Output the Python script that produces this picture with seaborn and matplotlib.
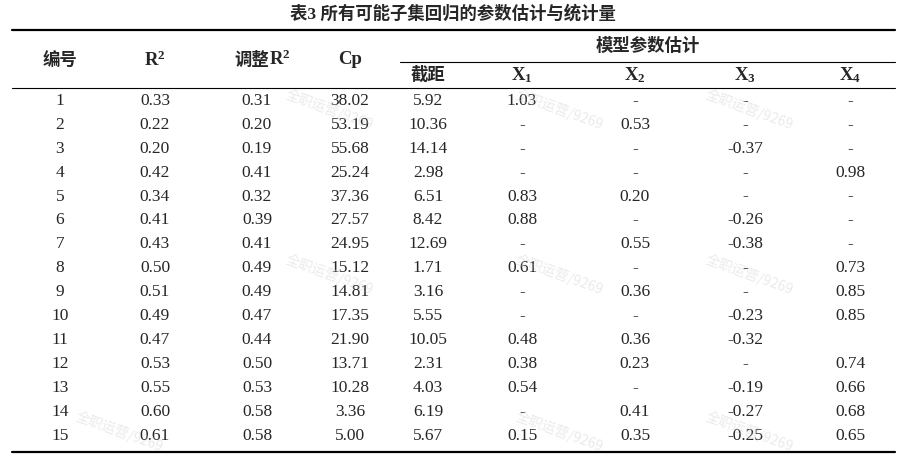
import matplotlib
matplotlib.use("Agg")
import matplotlib.pyplot as plt
import seaborn as sns

sns.set_theme(style="white")
plt.rcParams['font.family'] = ['Liberation Serif', 'Noto Sans CJK SC']
plt.rcParams['mathtext.fontset'] = 'custom'
plt.rcParams['mathtext.rm'] = 'Liberation Serif'
plt.rcParams['mathtext.bf'] = 'Liberation Serif:bold'
plt.rcParams['mathtext.it'] = 'Liberation Serif:italic'

title = "表3 所有可能子集回归的参数估计与统计量"
ids = [str(i) for i in range(1, 16)]
r2 = ["0.33","0.22","0.20","0.42","0.34","0.41","0.43","0.50","0.51","0.49","0.47","0.53","0.55","0.60","0.61"]
adj_r2 = ["0.31","0.20","0.19","0.41","0.32","0.39","0.41","0.49","0.49","0.47","0.44","0.50","0.53","0.58","0.58"]
cp = ["38.02","53.19","55.68","25.24","37.36","27.57","24.95","15.12","14.81","17.35","21.90","13.71","10.28","3.36","5.00"]
intercept = ["5.92","10.36","14.14","2.98","6.51","8.42","12.69","1.71","3.16","5.55","10.05","2.31","4.03","6.19","5.67"]
x1 = ["1.03","-","-","-","0.83","0.88","-","0.61","-","-","0.48","0.38","0.54","-","0.15"]
x2 = ["-","0.53","-","-","0.20","-","0.55","-","0.36","-","0.36","0.23","-","0.41","0.35"]
x3 = ["-","-","-0.37","-","-","-0.26","-0.38","-","-","-0.23","-0.32","-","-0.19","-0.27","-0.25"]
x4 = ["-","-","-","0.98","-","-","-","0.73","0.85","0.85","","0.74","0.66","0.68","0.65"]

W, H = 906, 459
fig = plt.figure(figsize=(W/100, H/100), dpi=100)
ax = fig.add_axes([0, 0, 1, 1])
ax.set_xlim(0, W); ax.set_ylim(H, 0); ax.axis('off')

fam = ['Liberation Serif', 'Noto Sans CJK SC']
fs = 12.5
ax.text(453, 14, title, ha='center', va='center', fontsize=12.5, fontweight='bold', family=fam)

ax.plot([12, 895], [30, 30], color='black', lw=1.6)
ax.plot([400, 895], [62, 62], color='black', lw=0.8)
ax.plot([12, 895], [88, 88], color='black', lw=0.8)
ax.plot([12, 895], [452, 452], color='black', lw=1.6)

xs = [60, 155, 257, 350, 428, 522, 635, 745, 850]
ax.text(xs[0], 60, "编号", ha='center', va='center', fontsize=fs, fontweight='bold', family=fam)
ax.text(xs[1], 60, r"$\mathbf{R^2}$", ha='center', va='center', fontsize=fs+1)
ax.text(xs[2] + 12, 60, "调整", ha='right', va='center', fontsize=fs, fontweight='bold', family=['Noto Sans CJK SC'])
ax.text(xs[2] + 12, 59, r"$\mathbf{R^2}$", ha='left', va='center', fontsize=fs+1)
ax.text(xs[3], 60, "Cp", ha='center', va='center', fontsize=fs+1, fontweight='bold', family=fam)
ax.text(648, 46, "模型参数估计", ha='center', va='center', fontsize=fs, fontweight='bold', family=fam)
ax.text(xs[4], 75, "截距", ha='center', va='center', fontsize=fs, fontweight='bold', family=fam)
for k, x in enumerate(xs[5:], start=1):
    ax.text(x, 75, r"$\mathbf{X_%d}$" % k, ha='center', va='center', fontsize=fs+1)

cols = [ids, r2, adj_r2, cp, intercept, x1, x2, x3, x4]
for i in range(15):
    y = 101 + i * 23.9
    for x, col in zip(xs, cols):
        ax.text(x, y, col[i], ha='center', va='center', fontsize=fs, family=fam)

for (wx, wy) in [(330, 110), (560, 110), (750, 110), (330, 275), (560, 275), (750, 275), (120, 432), (560, 432), (750, 432)]:
    ax.text(wx, wy, "全职运营/9269", ha='center', va='center', fontsize=10, rotation=-20,
            color='#cccccc', alpha=0.4, family=['Noto Sans CJK SC'])

fig.savefig("out.png", dpi=100)
